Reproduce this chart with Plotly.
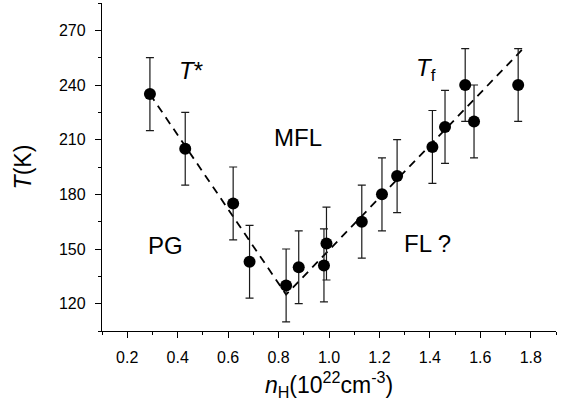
import plotly.graph_objects as go

# Data
n_H = [0.29, 0.43, 0.62, 0.685, 0.83, 0.88, 0.98, 0.99, 1.13, 1.21, 1.27, 1.41, 1.46, 1.54, 1.575, 1.75]
T_K = [235, 205, 175, 143, 130, 140, 141, 153, 165, 180, 190, 206, 217, 240, 220, 240]
T_err = [20, 20, 20, 20, 20, 20, 20, 20, 20, 20, 20, 20, 20, 20, 20, 20]

guide_x = [0.29, 0.83, 1.77]
guide_y = [235, 125, 260]

x_ticks = [0.2, 0.4, 0.6, 0.8, 1.0, 1.2, 1.4, 1.6, 1.8]
x_tick_labels = ["0.2", "0.4", "0.6", "0.8", "1.0", "1.2", "1.4", "1.6", "1.8"]
y_ticks = [120, 150, 180, 210, 240, 270]

FONT = "Arial, Liberation Sans, sans-serif"

fig = go.Figure()

fig.add_trace(go.Scatter(
    x=guide_x, y=guide_y, mode="lines",
    line=dict(color="black", width=1.8, dash="8px,6px"),
    hoverinfo="skip", showlegend=False,
))

fig.add_trace(go.Scatter(
    x=n_H, y=T_K, mode="markers",
    marker=dict(color="black", size=12),
    error_y=dict(type="data", array=T_err, visible=True, color="#1a1a1a", thickness=1.2, width=4),
    showlegend=False,
))

annots = [
    dict(x=0.454, y=247.7, text="<i>T</i>*"),
    dict(x=0.879, y=211.2, text="MFL"),
    dict(x=0.353, y=151.8, text="PG"),
    dict(x=1.391, y=153.2, text="FL ?"),
    dict(x=1.385, y=248.5, text="<i>T</i><sub>f</sub>"),
]
for a in annots:
    fig.add_annotation(x=a["x"], y=a["y"], text=a["text"], showarrow=False,
                       font=dict(family=FONT, size=24, color="black"),
                       xanchor="center", yanchor="middle")

fig.update_layout(
    width=569, height=406,
    margin=dict(l=102, r=13, t=3, b=75),
    paper_bgcolor="white", plot_bgcolor="white",
    font=dict(family=FONT, color="black"),
    showlegend=False,
)

fig.update_xaxes(
    range=[0.1, 1.9], showgrid=False, zeroline=False,
    showline=True, linecolor="black", linewidth=1.3,
    ticks="outside", ticklen=6, tickwidth=1.3, tickcolor="black",
    tickvals=x_ticks, ticktext=x_tick_labels,
    tickfont=dict(family=FONT, size=16, color="black"),
    ticklabelstandoff=6,
    minor=dict(ticks="outside", ticklen=3, tickwidth=1, tickcolor="black", dtick=0.1, tick0=0.1, showgrid=False),
    title=dict(text="<i>n</i><sub>H</sub>(10<sup>22</sup>cm<sup>-3</sup>)",
               font=dict(family=FONT, size=23, color="black"), standoff=11),
)

fig.update_yaxes(
    range=[105, 285], showgrid=False, zeroline=False,
    showline=True, linecolor="black", linewidth=1.3,
    ticks="outside", ticklen=6, tickwidth=1.3, tickcolor="black",
    tickvals=y_ticks,
    tickfont=dict(family=FONT, size=16, color="black"),
    ticklabelstandoff=6,
    minor=dict(ticks="outside", ticklen=3, tickwidth=1, tickcolor="black", dtick=15, tick0=105, showgrid=False),
    title=dict(text="<i>T</i>(K)", font=dict(family=FONT, size=23, color="black"), standoff=20),
)

fig.write_html("out.html",
               config={"displayModeBar": False},
               post_script="document.body.style.margin='0';document.body.style.padding='0';")
